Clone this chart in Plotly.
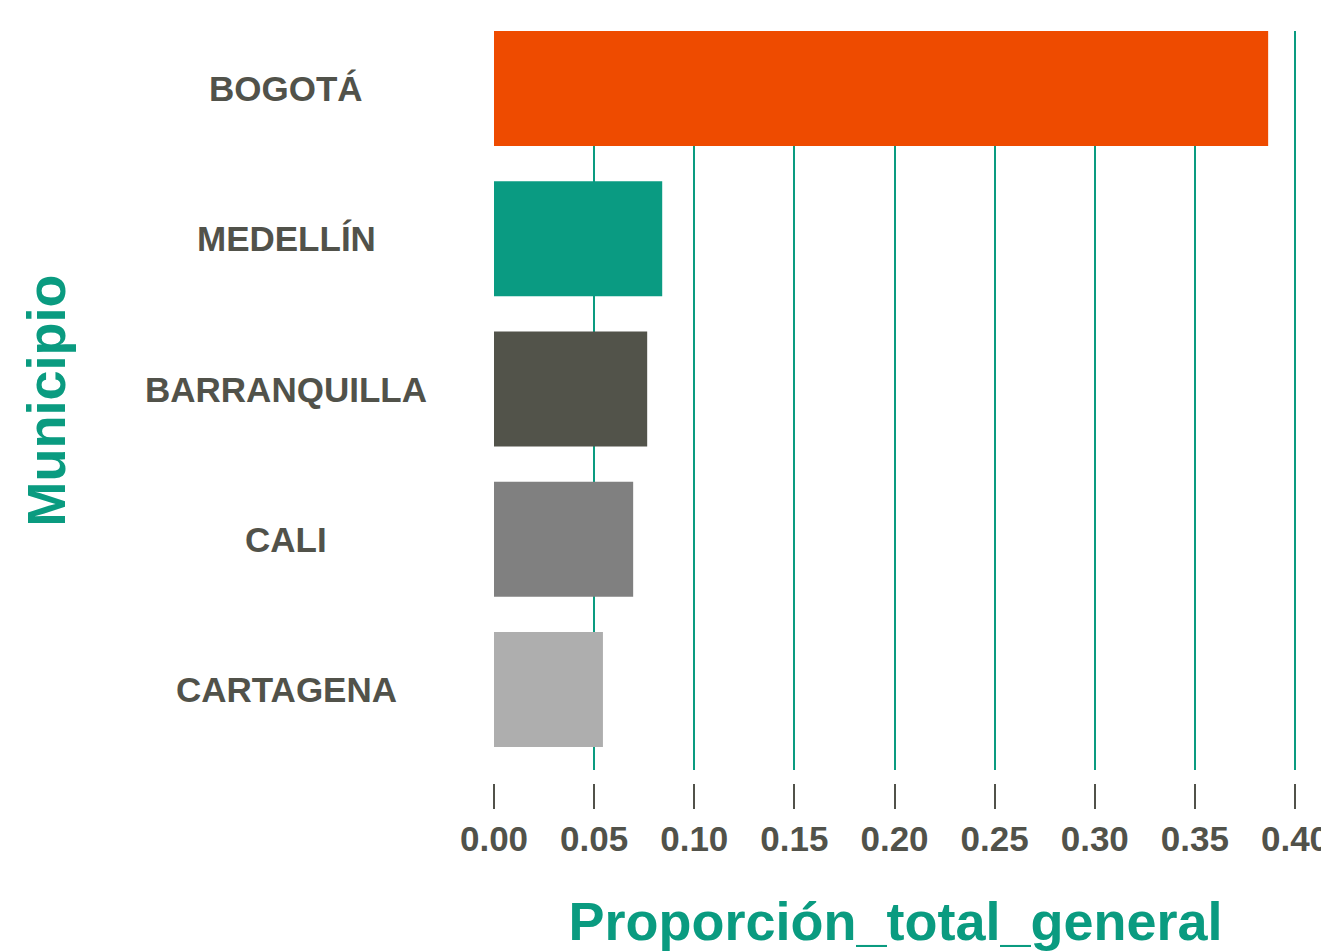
import plotly.graph_objects as go

municipios = ["CARTAGENA", "CALI", "BARRANQUILLA", "MEDELLÍN", "BOGOTÁ"]
proporcion = [0.0544, 0.0695, 0.0765, 0.0840, 0.3866]
colores = ["#AEAEAE", "#808080", "#52534A", "#0A9B82", "#EE4B00"]
x_ticks = [0.00, 0.05, 0.10, 0.15, 0.20, 0.25, 0.30, 0.35, 0.40]
x_tick_labels = ["0.00", "0.05", "0.10", "0.15", "0.20", "0.25", "0.30", "0.35", "0.40"]

TEAL = "#0A9B80"
DARK = "#51524A"
FONT = "Liberation Sans, Arial, sans-serif"

fig = go.Figure(
    go.Bar(
        x=proporcion,
        y=municipios,
        orientation="h",
        marker=dict(color=colores, line=dict(width=0)),
        width=0.766,
        hoverinfo="x+y",
    )
)

OFF = 8  # page body margin
W, H = 1329 - OFF, 951 - OFF
ml, mr, mt = 493 - OFF, 31, 31 - OFF
plot_w = W - ml - mr
plot_bottom_px = 770 - OFF
axis_px = 783 - OFF
mb = H - axis_px
paper_h = H - mt - mb
ydom0 = (axis_px - plot_bottom_px) / paper_h

fig.update_layout(
    width=W,
    height=H,
    template="none",
    paper_bgcolor="white",
    plot_bgcolor="white",
    margin=dict(l=ml, r=mr, t=mt, b=mb, pad=0),
    showlegend=False,
    font=dict(family=FONT, color=DARK),
    xaxis=dict(
        range=[-0.0005, 0.4015],
        tickvals=x_ticks,
        ticktext=x_tick_labels,
        showgrid=True,
        gridcolor=TEAL,
        gridwidth=1.5,
        zeroline=False,
        showline=False,
        ticks="outside",
        ticklen=25,
        tickwidth=2,
        tickcolor=DARK,
        tickfont=dict(size=35, color=DARK, family=FONT, weight="bold"),
        ticklabeloverflow="allow",
        anchor="free",
        position=0,
        automargin=False,
        title=dict(
            text="Proporción_total_general",
            font=dict(size=54, color=TEAL, family=FONT, weight="bold"),
            standoff=45,
        ),
    ),
    yaxis=dict(
        domain=[ydom0, 1],
        range=[-0.5358, 4.3827],
        categoryorder="array",
        categoryarray=municipios,
        showticklabels=False,
        showgrid=False,
        zeroline=False,
        showline=False,
        ticks="",
        automargin=False,
    ),
)

for m in municipios:
    fig.add_annotation(
        x=(286 - OFF - ml) / plot_w,
        xref="paper",
        y=m,
        yref="y",
        text=m,
        showarrow=False,
        xanchor="center",
        yanchor="middle",
        font=dict(size=35, color=DARK, family=FONT, weight="bold"),
    )

fig.add_annotation(
    x=(45 - OFF - ml) / plot_w,
    xref="paper",
    y=0.5,
    yref="y domain",
    text="Municipio",
    textangle=-90,
    showarrow=False,
    xanchor="center",
    yanchor="middle",
    font=dict(size=54, color=TEAL, family=FONT, weight="bold"),
)

fig.write_html(
    "out.html",
    post_script="document.documentElement.style.overflow='hidden';document.body.style.overflow='hidden';",
)
